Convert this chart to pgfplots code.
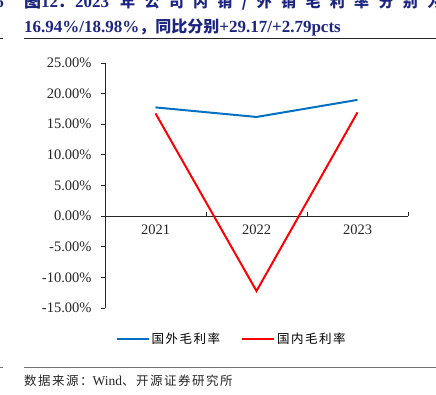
\documentclass[border=0pt]{standalone}
\usepackage{pgfplots}
\pgfplotsset{compat=1.18}
\usepackage{fontspec}
\setmainfont{Liberation Serif}
\newfontfamily\cjk{Noto Sans CJK SC}
\newfontfamily\cjkl[LetterSpace=12]{Noto Sans CJK SC}
\definecolor{tblue}{RGB}{28,38,128}
\definecolor{sblue}{RGB}{0,112,192}
\begin{document}
\begin{tikzpicture}[x=1pt,y=1pt]
\useasboundingbox (0,0) rectangle (436,-395);
\clip (0,0) rectangle (436,-395);
% title
\node[anchor=base east, inner sep=0, text=tblue, font=\fontsize{17}{18}\selectfont\bfseries] at (4,-8) {6};
\node[anchor=base west, inner sep=0, text=tblue, font=\fontsize{17}{18}\selectfont\bfseries] at (24,-8) {{\cjk\bfseries 图}12{\cjk\bfseries ：}2023};
\node[anchor=base west, inner sep=0, text=tblue, font=\fontsize{15}{18}\selectfont\bfseries] at (120,-8) {\makebox[322pt][s]{\cjk\bfseries 年 公 司 内 销 / 外 销 毛 利 率 分 别 为}};
\node[anchor=base west, inner sep=0, text=tblue, font=\fontsize{17}{18}\selectfont\bfseries] at (24,-33) {16.94\%/18.98\%{\cjk\bfseries\fontsize{16}{18}\selectfont ，同比分别}+29.17/+2.79pcts};
\draw[line width=1pt, black!85] (24,-39) -- (436,-39);
\draw[line width=1pt, black!85] (0,-39) -- (3,-39);
% source
\draw[line width=0.8pt, black!55] (24,-367) -- (436,-367);
\draw[line width=0.8pt, black!55] (0,-367) -- (3,-367);
\node[anchor=base west, inner sep=0, text=black!85, font=\cjkl\fontsize{12.5}{14}\selectfont] at (24,-385) {数据来源：{\rmfamily\fontsize{13.5}{14}\selectfont Wind}、开源证券研究所};
\begin{axis}[
  at={(105pt,-308pt)}, anchor=south west,
  scale only axis, width=303pt, height=245pt,
  xmin=-0.5, xmax=2.5, ymin=-15, ymax=25,
  axis x line=middle, axis y line=left,
  axis line style={-, black!85, line width=0.8pt},
  xtick={-0.5,0.5,1.5,2.5}, xticklabels={2021,2022,2023},
  x tick label as interval,
  hide obscured x ticks=false,
  ytick={-15,-10,...,25},
  yticklabel={\pgfmathprintnumber[fixed,fixed zerofill,precision=2]{\tick}\%},
  /pgf/number format/assume math mode=true,
  tick label style={font=\fontsize{14.5}{16}\selectfont, text=black!85},
  xtick align=inside, ytick align=outside,
  major tick length=4pt,
  tick style={black!85, line width=0.8pt},
  x tick label style={yshift=-5pt},
  y tick label style={xshift=-6pt},
  legend style={at={(0.4175,-0.1265)}, anchor=center, draw=none, fill=none,
    font=\cjkl\fontsize{12.5}{14}\selectfont,
    /tikz/every even column/.append style={column sep=19pt}},
  legend columns=2,
  legend image code/.code={\draw[#1] (0pt,0pt) -- (32pt,0pt);},
]
\addplot[sblue, line width=2pt] coordinates {(0,17.75) (1,16.19) (2,18.98)};
\addlegendentry{国外毛利率}
\addplot[red, line width=2pt] coordinates {(0,16.77) (1,-12.23) (2,16.94)};
\addlegendentry{国内毛利率}
\end{axis}
\end{tikzpicture}
\end{document}
